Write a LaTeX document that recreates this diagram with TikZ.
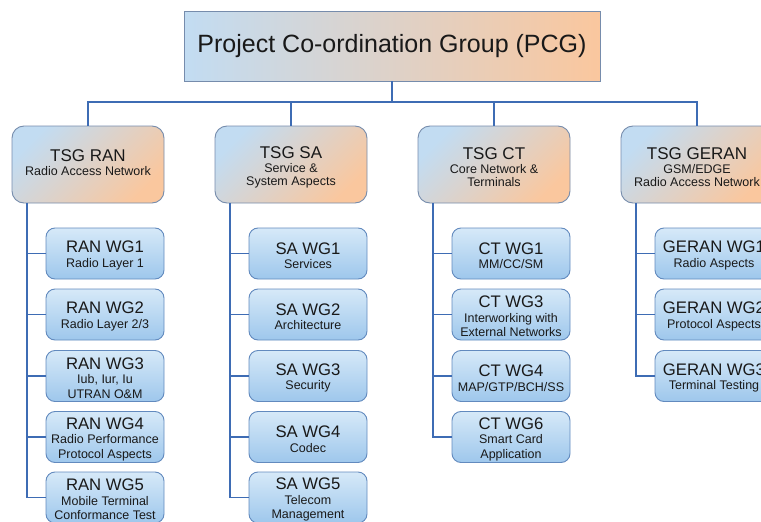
\documentclass[tikz,border=0pt]{standalone}
\usepackage{fontspec}
\setmainfont{Liberation Sans}
\definecolor{cblue}{RGB}{194,220,242}
\definecolor{corange}{RGB}{250,199,158}
\definecolor{boxborder}{RGB}{118,140,172}
\definecolor{wgtop}{RGB}{214,233,248}
\definecolor{wgbot}{RGB}{158,199,236}
\definecolor{wgborder}{RGB}{98,138,190}
\definecolor{lineblue}{RGB}{62,108,180}
\definecolor{txt}{RGB}{25,25,25}
\newcommand{\tsgtext}[3][18pt]{\fontsize{17}{17}\selectfont\rule{0pt}{#1}#2\\[0pt]#3}
\newcommand{\wgtext}[2]{\fontsize{16.7}{17}\selectfont\rule{0pt}{16pt}#1\\[0pt]#2}
\tikzset{
  pcgbox/.style={draw=boxborder, line width=0.9pt, left color=cblue, right color=corange,
    minimum width=416pt, minimum height=70pt, inner sep=0pt, text=txt,
    font=\fontsize{25}{30}\selectfont},
  tsgbox/.style={draw=boxborder, line width=0.9pt, rounded corners=12pt,
    top color=cblue, bottom color=corange, shading angle=45,
    minimum width=152pt, minimum height=77pt, inner sep=0pt, align=center, text=txt,
    font=\fontsize{12.5}{13.5}\selectfont},
  wgbox/.style={draw=wgborder, line width=0.9pt, rounded corners=9pt,
    top color=wgtop, bottom color=wgbot,
    minimum width=118pt, minimum height=51pt, inner sep=0pt, align=center, text=txt,
    font=\fontsize{12.5}{14.5}\selectfont},
  conn/.style={draw=lineblue, line width=1.8pt},
}
\begin{document}
\begin{tikzpicture}[x=1pt,y=-1pt]
\useasboundingbox (0,0) rectangle (761,522);
\clip (0,0) rectangle (761,522);
\node[pcgbox] (pcg) at (392,46) {Project Co-ordination Group (PCG)};
\node[tsgbox] (ran) at (88,164.5) {\tsgtext[13pt]{TSG RAN}{Radio Access Network\rule[-5pt]{0pt}{5pt}}};
\node[tsgbox] (sa) at (291,164.5) {\tsgtext{TSG SA}{Service \&\\System Aspects}};
\node[tsgbox] (ct) at (494,164.5) {\tsgtext{TSG CT}{Core Network \&\\Terminals}};
\node[tsgbox] (geran) at (697,164.5) {\tsgtext{TSG GERAN}{GSM/EDGE\\Radio Access Network}};
\coordinate (bus) at (0,102);
\draw[conn] (pcg.south) -- (pcg.south|-bus);
\draw[conn] (ran.north) -- (ran.north|-bus) -- (geran.north|-bus) -- (geran.north);
\draw[conn] (sa.north) -- (sa.north|-bus);
\draw[conn] (ct.north) -- (ct.north|-bus);
% RAN working groups
\node[wgbox] (rw1) at (105,253.5) {\wgtext{RAN WG1}{Radio Layer 1}};
\node[wgbox] (rw2) at (105,314.5) {\wgtext{RAN WG2}{Radio Layer 2/3}};
\node[wgbox] (rw3) at (105,376) {\wgtext{RAN WG3}{Iub, Iur, Iu\\UTRAN O\&M}};
\node[wgbox] (rw4) at (105,437) {\wgtext{RAN WG4}{Radio Performance\\Protocol Aspects}};
\node[wgbox] (rw5) at (105,497.5) {\wgtext{RAN WG5}{Mobile Terminal\\Conformance Test}};
% SA working groups
\node[wgbox] (sw1) at (308,253.5) {\wgtext{SA WG1}{Services}};
\node[wgbox] (sw2) at (308,314.5) {\wgtext{SA WG2}{Architecture}};
\node[wgbox] (sw3) at (308,376) {\wgtext{SA WG3}{Security}};
\node[wgbox] (sw4) at (308,437) {\wgtext{SA WG4}{Codec}};
\node[wgbox] (sw5) at (308,497.5) {\wgtext{SA WG5}{Telecom\\Management}};
% CT working groups
\node[wgbox] (cw1) at (511,253.5) {\wgtext{CT WG1}{MM/CC/SM}};
\node[wgbox] (cw3) at (511,314.5) {\wgtext{CT WG3}{Interworking with\\External Networks}};
\node[wgbox] (cw4) at (511,376) {\wgtext{CT WG4}{MAP/GTP/BCH/SS}};
\node[wgbox] (cw6) at (511,437) {\wgtext{CT WG6}{Smart Card\\Application}};
% GERAN working groups
\node[wgbox] (gw1) at (714,253.5) {\wgtext{GERAN WG1}{Radio Aspects}};
\node[wgbox] (gw2) at (714,314.5) {\wgtext{GERAN WG2}{Protocol Aspects}};
\node[wgbox] (gw3) at (714,376) {\wgtext{GERAN WG3}{Terminal Testing}};
% spines
\coordinate (ranv) at (27,0);
\coordinate (sav) at (230,0);
\coordinate (ctv) at (433,0);
\coordinate (gerv) at (636,0);
\foreach \w in {rw1,rw2,rw3,rw4,rw5} \draw[conn] (ranv|-ran.south) |- (\w.west);
\foreach \w in {sw1,sw2,sw3,sw4,sw5} \draw[conn] (sav|-sa.south) |- (\w.west);
\foreach \w in {cw1,cw3,cw4,cw6} \draw[conn] (ctv|-ct.south) |- (\w.west);
\foreach \w in {gw1,gw2,gw3} \draw[conn] (gerv|-geran.south) |- (\w.west);
\end{tikzpicture}
\end{document}
